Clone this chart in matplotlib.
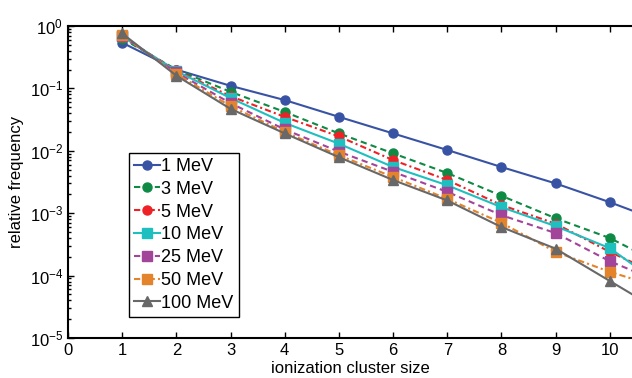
import numpy as np
import matplotlib.pyplot as plt

# cluster sizes (11 lies just past the right edge, so the lines run to the border)
cluster = [1, 2, 3, 4, 5, 6, 7, 8, 9, 10, 11]

labels = ["1 MeV", "3 MeV", "5 MeV", "10 MeV", "25 MeV", "50 MeV", "100 MeV"]

f_1 = [0.54, 0.20, 0.11, 0.065, 0.035, 0.019, 0.0103, 0.0055, 0.0030, 0.0015, 7.1e-4]
f_3 = [0.63, 0.20, 0.088, 0.042, 0.019, 0.0091, 0.0044, 0.0019, 8.3e-4, 4.0e-4, 1.45e-4]
f_5 = [0.66, 0.195, 0.075, 0.035, 0.017, 0.0071, 0.0034, 0.00135, 6.8e-4, 2.4e-4, 9.5e-5]
f_10 = [0.68, 0.19, 0.070, 0.028, 0.013, 0.0055, 0.0028, 0.00125, 6.2e-4, 2.75e-4, 6.6e-5]
f_25 = [0.70, 0.18, 0.058, 0.022, 0.0097, 0.0046, 0.0022, 9.3e-4, 4.8e-4, 1.7e-4, 7.4e-5]
f_50 = [0.72, 0.17, 0.052, 0.020, 0.0085, 0.0038, 0.0017, 7.0e-4, 2.4e-4, 1.15e-4, 6.2e-5]
f_100 = [0.76, 0.16, 0.047, 0.019, 0.0079, 0.0034, 0.0016, 6.0e-4, 2.7e-4, 8.2e-5, 2.5e-5]

series = [f_1, f_3, f_5, f_10, f_25, f_50, f_100]
colors = ["#3953a4", "#0f8a45", "#ee2226", "#1fbfbf", "#a3449b", "#e3832b", "#686868"]
styles = ["-", (0, (3, 2)), (0, (3, 1.5, 1, 1.5)), "-", (0, (3, 2)), (0, (3, 1.5, 1, 1.5)), "-"]
markers = ["o", "o", "o", "s", "s", "s", "^"]

plt.rcParams["font.family"] = ["Liberation Sans", "DejaVu Sans"]
plt.rcParams["font.size"] = 12

fig = plt.figure(figsize=(6.32, 3.78), dpi=100)
ax = fig.add_axes([68/632, 40/378, 564/632, 312/378])

for y, lab, c, ls, m in zip(series, labels, colors, styles, markers):
    ax.plot(cluster, y, color=c, linestyle=ls, marker=m, markersize=6.5,
            linewidth=1.5, label=lab)

ax.set_yscale("log")
ax.set_xlim(0, 10.41)
ax.set_ylim(1e-5, 1)
ax.set_xticks(range(0, 11))
ax.set_yticks([1e-5, 1e-4, 1e-3, 1e-2, 1e-1, 1])
ax.tick_params(which="both", direction="in", top=True, right=False, width=1)
ax.tick_params(which="major", length=4, labelsize=12)
ax.tick_params(which="minor", length=2)
ax.spines["right"].set_visible(False)
for s in ["left", "bottom", "top"]:
    ax.spines[s].set_linewidth(1.5)

ax.set_xlabel("ionization cluster size", fontsize=12, labelpad=2)
ax.set_ylabel("relative frequency", fontsize=12, labelpad=4)

leg = ax.legend(loc="lower left", bbox_to_anchor=(0.108, 0.067), fontsize=13,
                handlelength=1.4, handletextpad=0.1, borderpad=0.3,
                labelspacing=0.32, fancybox=False, framealpha=1, borderaxespad=0)
leg.get_frame().set_edgecolor("black")
leg.get_frame().set_linewidth(1.0)

fig.savefig("out.png", dpi=100)
